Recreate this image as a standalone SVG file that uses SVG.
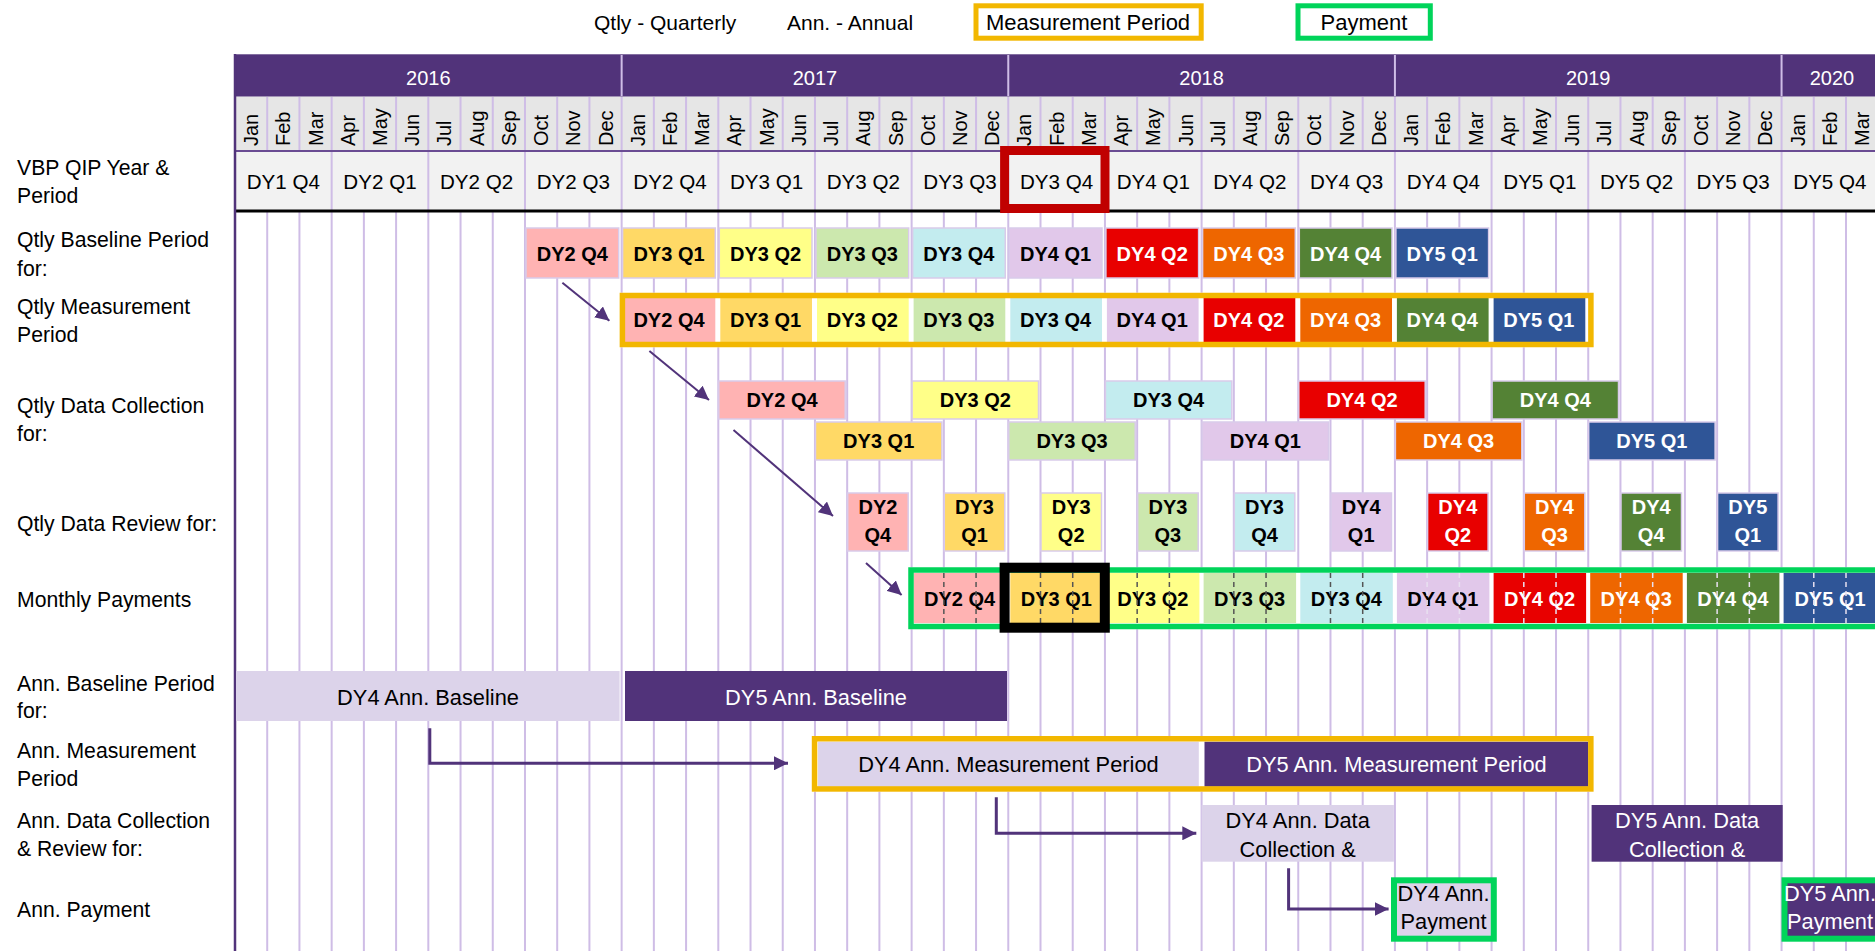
<svg xmlns="http://www.w3.org/2000/svg" width="1875" height="951" viewBox="0 0 1875 951">
<style>
text{font-family:"Liberation Sans",Arial,sans-serif;fill:#000}
.lab{font-size:21.2px}
.lg{font-size:21px}
.lgb{font-size:22px;text-anchor:middle}
.yr{font-size:20px;fill:#fff;text-anchor:middle}
.mo{font-size:20px}
.qt{font-size:20.6px;text-anchor:middle}
.bt{font-size:20px;font-weight:bold;text-anchor:middle}
.w{fill:#fff}
.an{font-size:21.8px;text-anchor:middle}
.blk{stroke:#D9CBEA;stroke-width:1.5}
.pk{fill:#FFB3B3}.gd{fill:#FFD966}.yw{fill:#FFFF88}.lgn{fill:#CCE8AE}.cy{fill:#C3ECEF}.lv{fill:#E1C8EA}
.rd{fill:#E80000}.or{fill:#EE6600}.gn{fill:#548235}.bl{fill:#2F5597}
.al{fill:#DCD3EA}.ap{fill:#51337A}
.grid{stroke:#CFBDE6;stroke-width:2;fill:none}
.ob{fill:none;stroke:#F2B700;stroke-width:5.5}
.gb{fill:none;stroke:#00D45A;stroke-width:5.5}
.dk{stroke:#555;stroke-width:1.5;stroke-dasharray:5 4}
.lt{stroke:#E8E0F0;stroke-width:1.5;stroke-dasharray:5 4}
.con{fill:none;stroke:#51337A}
</style>
<defs>
<marker id="ah" viewBox="0 0 10 10" refX="10" refY="5" markerWidth="14" markerHeight="14" markerUnits="userSpaceOnUse" orient="auto"><path d="M0,0 L10,5 L0,10 z" fill="#51337A"/></marker>
</defs>

<!-- legend -->
<g id="legend">
<text class="lg" x="594" y="30">Qtly - Quarterly</text>
<text class="lg" x="787" y="30">Ann. - Annual</text>
<rect x="976" y="5.8" width="225.2" height="32.4" fill="#fff" stroke="#F2B700" stroke-width="5"/>
<text class="lgb" x="1088" y="30">Measurement Period</text>
<rect x="1298" y="5.8" width="132.3" height="32.4" fill="#fff" stroke="#00D45A" stroke-width="5"/>
<text class="lgb" x="1364" y="30">Payment</text>
</g>

<!-- header -->
<g id="header">
<rect x="235" y="54.3" width="1640" height="42.4" fill="#51337A"/>
<rect x="235" y="96.7" width="1640" height="54.3" fill="#E6E6E6"/>
<rect x="235" y="151" width="1640" height="60" fill="#F2F2F2"/>
<path class="grid" d="M621.64 55V96M1008.28 55V96M1394.92 55V96M1781.56 55V96"/>
<path class="grid" d="M267.22 97V150M299.44 97V150M331.66 97V150M363.88 97V150M396.1 97V150M428.32 97V150M460.54 97V150M492.76 97V150M524.98 97V150M557.2 97V150M589.42 97V150M621.64 97V150M653.86 97V150M686.08 97V150M718.3 97V150M750.52 97V150M782.74 97V150M814.96 97V150M847.18 97V150M879.4 97V150M911.62 97V150M943.84 97V150M976.06 97V150M1008.28 97V150M1040.5 97V150M1072.72 97V150M1104.94 97V150M1137.16 97V150M1169.38 97V150M1201.6 97V150M1233.82 97V150M1266.04 97V150M1298.26 97V150M1330.48 97V150M1362.7 97V150M1394.92 97V150M1427.14 97V150M1459.36 97V150M1491.58 97V150M1523.8 97V150M1556.02 97V150M1588.24 97V150M1620.46 97V150M1652.68 97V150M1684.9 97V150M1717.12 97V150M1749.34 97V150M1781.56 97V150M1813.78 97V150M1846 97V150"/>
<path class="grid" d="M331.66 152V210M428.32 152V210M524.98 152V210M621.64 152V210M718.3 152V210M814.96 152V210M911.62 152V210M1008.28 152V210M1104.94 152V210M1201.6 152V210M1298.26 152V210M1394.92 152V210M1491.58 152V210M1588.24 152V210M1684.9 152V210M1781.56 152V210"/>
<line x1="235" y1="151" x2="1875" y2="151" stroke="#6A4C93" stroke-width="2"/>
<text class="yr" x="428.3" y="85">2016</text>
<text class="yr" x="815" y="85">2017</text>
<text class="yr" x="1201.6" y="85">2018</text>
<text class="yr" x="1588.2" y="85">2019</text>
<text class="yr" x="1832" y="85">2020</text>
<g class="months">
<text class="mo" transform="translate(258.1,146) rotate(-90)">Jan</text>
<text class="mo" transform="translate(290.3,146) rotate(-90)">Feb</text>
<text class="mo" transform="translate(322.5,146) rotate(-90)">Mar</text>
<text class="mo" transform="translate(354.8,146) rotate(-90)">Apr</text>
<text class="mo" transform="translate(387,146) rotate(-90)">May</text>
<text class="mo" transform="translate(419.2,146) rotate(-90)">Jun</text>
<text class="mo" transform="translate(451.4,146) rotate(-90)">Jul</text>
<text class="mo" transform="translate(483.6,146) rotate(-90)">Aug</text>
<text class="mo" transform="translate(515.9,146) rotate(-90)">Sep</text>
<text class="mo" transform="translate(548.1,146) rotate(-90)">Oct</text>
<text class="mo" transform="translate(580.3,146) rotate(-90)">Nov</text>
<text class="mo" transform="translate(612.5,146) rotate(-90)">Dec</text>
<text class="mo" transform="translate(644.7,146) rotate(-90)">Jan</text>
<text class="mo" transform="translate(676.9,146) rotate(-90)">Feb</text>
<text class="mo" transform="translate(709.2,146) rotate(-90)">Mar</text>
<text class="mo" transform="translate(741.4,146) rotate(-90)">Apr</text>
<text class="mo" transform="translate(773.6,146) rotate(-90)">May</text>
<text class="mo" transform="translate(805.8,146) rotate(-90)">Jun</text>
<text class="mo" transform="translate(838,146) rotate(-90)">Jul</text>
<text class="mo" transform="translate(870.3,146) rotate(-90)">Aug</text>
<text class="mo" transform="translate(902.5,146) rotate(-90)">Sep</text>
<text class="mo" transform="translate(934.7,146) rotate(-90)">Oct</text>
<text class="mo" transform="translate(966.9,146) rotate(-90)">Nov</text>
<text class="mo" transform="translate(999.1,146) rotate(-90)">Dec</text>
<text class="mo" transform="translate(1031.4,146) rotate(-90)">Jan</text>
<text class="mo" transform="translate(1063.6,146) rotate(-90)">Feb</text>
<text class="mo" transform="translate(1095.8,146) rotate(-90)">Mar</text>
<text class="mo" transform="translate(1128,146) rotate(-90)">Apr</text>
<text class="mo" transform="translate(1160.2,146) rotate(-90)">May</text>
<text class="mo" transform="translate(1192.5,146) rotate(-90)">Jun</text>
<text class="mo" transform="translate(1224.7,146) rotate(-90)">Jul</text>
<text class="mo" transform="translate(1256.9,146) rotate(-90)">Aug</text>
<text class="mo" transform="translate(1289.1,146) rotate(-90)">Sep</text>
<text class="mo" transform="translate(1321.4,146) rotate(-90)">Oct</text>
<text class="mo" transform="translate(1353.6,146) rotate(-90)">Nov</text>
<text class="mo" transform="translate(1385.8,146) rotate(-90)">Dec</text>
<text class="mo" transform="translate(1418,146) rotate(-90)">Jan</text>
<text class="mo" transform="translate(1450.2,146) rotate(-90)">Feb</text>
<text class="mo" transform="translate(1482.5,146) rotate(-90)">Mar</text>
<text class="mo" transform="translate(1514.7,146) rotate(-90)">Apr</text>
<text class="mo" transform="translate(1546.9,146) rotate(-90)">May</text>
<text class="mo" transform="translate(1579.1,146) rotate(-90)">Jun</text>
<text class="mo" transform="translate(1611.3,146) rotate(-90)">Jul</text>
<text class="mo" transform="translate(1643.6,146) rotate(-90)">Aug</text>
<text class="mo" transform="translate(1675.8,146) rotate(-90)">Sep</text>
<text class="mo" transform="translate(1708,146) rotate(-90)">Oct</text>
<text class="mo" transform="translate(1740.2,146) rotate(-90)">Nov</text>
<text class="mo" transform="translate(1772.4,146) rotate(-90)">Dec</text>
<text class="mo" transform="translate(1804.7,146) rotate(-90)">Jan</text>
<text class="mo" transform="translate(1836.9,146) rotate(-90)">Feb</text>
<text class="mo" transform="translate(1869.1,146) rotate(-90)">Mar</text>
</g>
<g class="quarters">
<text class="qt" x="283.3" y="189">DY1 Q4</text>
<text class="qt" x="380" y="189">DY2 Q1</text>
<text class="qt" x="476.6" y="189">DY2 Q2</text>
<text class="qt" x="573.3" y="189">DY2 Q3</text>
<text class="qt" x="670" y="189">DY2 Q4</text>
<text class="qt" x="766.6" y="189">DY3 Q1</text>
<text class="qt" x="863.3" y="189">DY3 Q2</text>
<text class="qt" x="960" y="189">DY3 Q3</text>
<text class="qt" x="1056.6" y="189">DY3 Q4</text>
<text class="qt" x="1153.3" y="189">DY4 Q1</text>
<text class="qt" x="1249.9" y="189">DY4 Q2</text>
<text class="qt" x="1346.6" y="189">DY4 Q3</text>
<text class="qt" x="1443.3" y="189">DY4 Q4</text>
<text class="qt" x="1539.9" y="189">DY5 Q1</text>
<text class="qt" x="1636.6" y="189">DY5 Q2</text>
<text class="qt" x="1733.2" y="189">DY5 Q3</text>
<text class="qt" x="1829.9" y="189">DY5 Q4</text>
</g>
</g>

<!-- body grid -->
<g id="grid">
<path class="grid" d="M267.22 212V951M299.44 212V951M331.66 212V951M363.88 212V951M396.1 212V951M428.32 212V951M460.54 212V951M492.76 212V951M524.98 212V951M557.2 212V951M589.42 212V951M621.64 212V951M653.86 212V951M686.08 212V951M718.3 212V951M750.52 212V951M782.74 212V951M814.96 212V951M847.18 212V951M879.4 212V951M911.62 212V951M943.84 212V951M976.06 212V951M1008.28 212V951M1040.5 212V951M1072.72 212V951M1104.94 212V951M1137.16 212V951M1169.38 212V951M1201.6 212V951M1233.82 212V951M1266.04 212V951M1298.26 212V951M1330.48 212V951M1362.7 212V951M1394.92 212V951M1427.14 212V951M1459.36 212V951M1491.58 212V951M1523.8 212V951M1556.02 212V951M1588.24 212V951M1620.46 212V951M1652.68 212V951M1684.9 212V951M1717.12 212V951M1749.34 212V951M1781.56 212V951M1813.78 212V951M1846 212V951"/>
<line x1="235" y1="211" x2="1875" y2="211" stroke="#000" stroke-width="3"/>
<line x1="235" y1="54" x2="235" y2="951" stroke="#51337A" stroke-width="2.5"/>
</g>

<!-- row labels -->
<g id="row-labels">
<text class="lab" x="17" y="175">VBP QIP Year &amp;</text>
<text class="lab" x="17" y="203">Period</text>
<text class="lab" x="17" y="247">Qtly Baseline Period</text>
<text class="lab" x="17" y="275.5">for:</text>
<text class="lab" x="17" y="314.3">Qtly Measurement</text>
<text class="lab" x="17" y="341.7">Period</text>
<text class="lab" x="17" y="413.3">Qtly Data Collection</text>
<text class="lab" x="17" y="440.7">for:</text>
<text class="lab" x="17" y="531">Qtly Data Review for:</text>
<text class="lab" x="17" y="606.7">Monthly Payments</text>
<text class="lab" x="17" y="691">Ann. Baseline Period</text>
<text class="lab" x="17" y="718.3">for:</text>
<text class="lab" x="17" y="758.3">Ann. Measurement</text>
<text class="lab" x="17" y="786">Period</text>
<text class="lab" x="17" y="828.3">Ann. Data Collection</text>
<text class="lab" x="17" y="856">&amp; Review for:</text>
<text class="lab" x="17" y="916.7">Ann. Payment</text>
</g>

<!-- red highlight on header -->
<rect id="current-quarter" x="1004.6" y="150.5" width="100.4" height="58" fill="none" stroke="#C00000" stroke-width="9"/>

<!-- Qtly Baseline Period row -->
<g id="baseline-row">
<g id="bp-dy2q4"><rect class="blk pk" x="526" y="228" width="92.7" height="50"/><text class="bt" x="572.3" y="260.5">DY2 Q4</text></g>
<g id="bp-dy3q1"><rect class="blk gd" x="622.6" y="228" width="92.7" height="50"/><text class="bt" x="669" y="260.5">DY3 Q1</text></g>
<g id="bp-dy3q2"><rect class="blk yw" x="719.3" y="228" width="92.7" height="50"/><text class="bt" x="765.6" y="260.5">DY3 Q2</text></g>
<g id="bp-dy3q3"><rect class="blk lgn" x="816" y="228" width="92.7" height="50"/><text class="bt" x="862.3" y="260.5">DY3 Q3</text></g>
<g id="bp-dy3q4"><rect class="blk cy" x="912.6" y="228" width="92.7" height="50"/><text class="bt" x="958.9" y="260.5">DY3 Q4</text></g>
<g id="bp-dy4q1"><rect class="blk lv" x="1009.3" y="228" width="92.7" height="50"/><text class="bt" x="1055.6" y="260.5">DY4 Q1</text></g>
<g id="bp-dy4q2"><rect class="blk rd" x="1105.9" y="228" width="92.7" height="50"/><text class="bt w" x="1152.2" y="260.5">DY4 Q2</text></g>
<g id="bp-dy4q3"><rect class="blk or" x="1202.6" y="228" width="92.7" height="50"/><text class="bt w" x="1248.9" y="260.5">DY4 Q3</text></g>
<g id="bp-dy4q4"><rect class="blk gn" x="1299.3" y="228" width="92.7" height="50"/><text class="bt w" x="1345.6" y="260.5">DY4 Q4</text></g>
<g id="bp-dy5q1"><rect class="blk bl" x="1395.9" y="228" width="92.7" height="50"/><text class="bt w" x="1442.2" y="260.5">DY5 Q1</text></g>
</g>

<!-- Qtly Measurement Period row -->
<g id="measurement-row">
<rect x="619.6" y="292.7" width="974" height="54.6" fill="#fff"/>
<g id="mp-dy2q4"><rect class="pk" x="623.6" y="298" width="91.7" height="44"/><text class="bt" x="669" y="327">DY2 Q4</text></g>
<g id="mp-dy3q1"><rect class="gd" x="720.3" y="298" width="91.7" height="44"/><text class="bt" x="765.6" y="327">DY3 Q1</text></g>
<g id="mp-dy3q2"><rect class="yw" x="817" y="298" width="91.7" height="44"/><text class="bt" x="862.3" y="327">DY3 Q2</text></g>
<g id="mp-dy3q3"><rect class="lgn" x="913.6" y="298" width="91.7" height="44"/><text class="bt" x="958.9" y="327">DY3 Q3</text></g>
<g id="mp-dy3q4"><rect class="cy" x="1010.3" y="298" width="91.7" height="44"/><text class="bt" x="1055.6" y="327">DY3 Q4</text></g>
<g id="mp-dy4q1"><rect class="lv" x="1106.9" y="298" width="91.7" height="44"/><text class="bt" x="1152.2" y="327">DY4 Q1</text></g>
<g id="mp-dy4q2"><rect class="rd" x="1203.6" y="298" width="91.7" height="44"/><text class="bt w" x="1248.9" y="327">DY4 Q2</text></g>
<g id="mp-dy4q3"><rect class="or" x="1300.3" y="298" width="91.7" height="44"/><text class="bt w" x="1345.6" y="327">DY4 Q3</text></g>
<g id="mp-dy4q4"><rect class="gn" x="1396.9" y="298" width="91.7" height="44"/><text class="bt w" x="1442.2" y="327">DY4 Q4</text></g>
<g id="mp-dy5q1"><rect class="bl" x="1493.6" y="298" width="91.7" height="44"/><text class="bt w" x="1538.9" y="327">DY5 Q1</text></g>
<rect class="ob" x="622.4" y="295.5" width="968.5" height="49"/>
</g>

<!-- Qtly Data Collection row -->
<g id="collection-row">
<g id="dc-dy2q4"><rect class="blk pk" x="718.8" y="381" width="126.4" height="38"/><text class="bt" x="782" y="407">DY2 Q4</text></g>
<g id="dc-dy3q2"><rect class="blk yw" x="912.1" y="381" width="126.4" height="38"/><text class="bt" x="975.3" y="407">DY3 Q2</text></g>
<g id="dc-dy3q4"><rect class="blk cy" x="1105.4" y="381" width="126.4" height="38"/><text class="bt" x="1168.6" y="407">DY3 Q4</text></g>
<g id="dc-dy4q2"><rect class="blk rd" x="1298.8" y="381" width="126.4" height="38"/><text class="bt w" x="1362" y="407">DY4 Q2</text></g>
<g id="dc-dy4q4"><rect class="blk gn" x="1492.1" y="381" width="126.4" height="38"/><text class="bt w" x="1555.3" y="407">DY4 Q4</text></g>
<g id="dc-dy3q1"><rect class="blk gd" x="815.5" y="422" width="126.4" height="38"/><text class="bt" x="878.7" y="448">DY3 Q1</text></g>
<g id="dc-dy3q3"><rect class="blk lgn" x="1008.8" y="422" width="126.4" height="38"/><text class="bt" x="1072" y="448">DY3 Q3</text></g>
<g id="dc-dy4q1"><rect class="blk lv" x="1202.1" y="422" width="126.4" height="38"/><text class="bt" x="1265.3" y="448">DY4 Q1</text></g>
<g id="dc-dy4q3"><rect class="blk or" x="1395.4" y="422" width="126.4" height="38"/><text class="bt w" x="1458.6" y="448">DY4 Q3</text></g>
<g id="dc-dy5q1"><rect class="blk bl" x="1588.7" y="422" width="126.4" height="38"/><text class="bt w" x="1651.9" y="448">DY5 Q1</text></g>
</g>

<!-- Qtly Data Review row -->
<g id="review-row">
<g id="dr-dy2q4"><rect class="blk pk" x="847.7" y="493" width="60.5" height="58"/><text class="bt" x="877.9" y="514">DY2</text><text class="bt" x="877.9" y="542">Q4</text></g>
<g id="dr-dy3q1"><rect class="blk gd" x="944.3" y="493" width="60.5" height="58"/><text class="bt" x="974.5" y="514">DY3</text><text class="bt" x="974.5" y="542">Q1</text></g>
<g id="dr-dy3q2"><rect class="blk yw" x="1041" y="493" width="60.5" height="58"/><text class="bt" x="1071.2" y="514">DY3</text><text class="bt" x="1071.2" y="542">Q2</text></g>
<g id="dr-dy3q3"><rect class="blk lgn" x="1137.7" y="493" width="60.5" height="58"/><text class="bt" x="1167.9" y="514">DY3</text><text class="bt" x="1167.9" y="542">Q3</text></g>
<g id="dr-dy3q4"><rect class="blk cy" x="1234.3" y="493" width="60.5" height="58"/><text class="bt" x="1264.5" y="514">DY3</text><text class="bt" x="1264.5" y="542">Q4</text></g>
<g id="dr-dy4q1"><rect class="blk lv" x="1331" y="493" width="60.5" height="58"/><text class="bt" x="1361.2" y="514">DY4</text><text class="bt" x="1361.2" y="542">Q1</text></g>
<g id="dr-dy4q2"><rect class="blk rd" x="1427.6" y="493" width="60.5" height="58"/><text class="bt w" x="1457.8" y="514">DY4</text><text class="bt w" x="1457.8" y="542">Q2</text></g>
<g id="dr-dy4q3"><rect class="blk or" x="1524.3" y="493" width="60.5" height="58"/><text class="bt w" x="1554.5" y="514">DY4</text><text class="bt w" x="1554.5" y="542">Q3</text></g>
<g id="dr-dy4q4"><rect class="blk gn" x="1621" y="493" width="60.5" height="58"/><text class="bt w" x="1651.2" y="514">DY4</text><text class="bt w" x="1651.2" y="542">Q4</text></g>
<g id="dr-dy5q1"><rect class="blk bl" x="1717.6" y="493" width="60.5" height="58"/><text class="bt w" x="1747.8" y="514">DY5</text><text class="bt w" x="1747.8" y="542">Q1</text></g>
</g>

<!-- Monthly Payments row -->
<g id="payments-row">
<rect x="908.2" y="567.3" width="970" height="62" fill="#fff"/>
<g id="pay-dy2q4"><rect class="pk" x="913.6" y="573" width="92.5" height="50"/><text class="bt" x="959.6" y="605.5">DY2 Q4</text></g>
<g id="pay-dy3q1"><rect class="gd" x="1010.3" y="573" width="92.5" height="50"/><text class="bt" x="1056.3" y="605.5">DY3 Q1</text></g>
<g id="pay-dy3q2"><rect class="yw" x="1106.9" y="573" width="92.5" height="50"/><text class="bt" x="1152.9" y="605.5">DY3 Q2</text></g>
<g id="pay-dy3q3"><rect class="lgn" x="1203.6" y="573" width="92.5" height="50"/><text class="bt" x="1249.6" y="605.5">DY3 Q3</text></g>
<g id="pay-dy3q4"><rect class="cy" x="1300.3" y="573" width="92.5" height="50"/><text class="bt" x="1346.3" y="605.5">DY3 Q4</text></g>
<g id="pay-dy4q1"><rect class="lv" x="1396.9" y="573" width="92.5" height="50"/><text class="bt" x="1442.9" y="605.5">DY4 Q1</text></g>
<g id="pay-dy4q2"><rect class="rd" x="1493.6" y="573" width="92.5" height="50"/><text class="bt w" x="1539.6" y="605.5">DY4 Q2</text></g>
<g id="pay-dy4q3"><rect class="or" x="1590.2" y="573" width="92.5" height="50"/><text class="bt w" x="1636.2" y="605.5">DY4 Q3</text></g>
<g id="pay-dy4q4"><rect class="gn" x="1686.9" y="573" width="92.5" height="50"/><text class="bt w" x="1732.9" y="605.5">DY4 Q4</text></g>
<g id="pay-dy5q1"><rect class="bl" x="1783.6" y="573" width="100" height="50"/><text class="bt w" x="1830" y="605.5">DY5 Q1</text></g>
<path class="dk" d="M943.84 573V623M976.06 573V623M1040.5 573V623M1072.72 573V623M1137.16 573V623M1169.38 573V623M1233.82 573V623M1266.04 573V623M1330.48 573V623M1362.7 573V623"/>
<path class="lt" d="M1427.14 573V623M1459.36 573V623M1523.8 573V623M1556.02 573V623M1620.46 573V623M1652.68 573V623M1717.12 573V623M1749.34 573V623M1813.78 573V623M1846 573V623"/>
<rect class="gb" x="911" y="570" width="975" height="56.5"/>
<rect id="current-payment" x="1004.6" y="567.7" width="100.2" height="60" fill="none" stroke="#000" stroke-width="10"/>
</g>

<!-- Annual rows -->
<g id="ann-baseline">
<g id="ab-dy4"><rect class="al" x="236" y="671" width="383.6" height="50"/><text class="an" x="428" y="705">DY4 Ann. Baseline</text></g>
<g id="ab-dy5"><rect class="ap" x="625" y="671" width="382" height="50"/><text class="an w" x="816" y="705">DY5 Ann. Baseline</text></g>
</g>
<g id="ann-measurement">
<rect x="811.8" y="736" width="781.8" height="55.7" fill="#fff"/>
<g id="am-dy4"><rect class="al" x="818" y="741.7" width="380.8" height="45"/><text class="an" x="1008.4" y="772">DY4 Ann. Measurement Period</text></g>
<g id="am-dy5"><rect class="ap" x="1204.5" y="741.7" width="383.8" height="45"/><text class="an w" x="1396.4" y="772">DY5 Ann. Measurement Period</text></g>
<rect class="ob" x="814.55" y="738.75" width="776.3" height="50.2"/>
</g>
<g id="ann-collection">
<g id="ac-dy4"><rect class="al" x="1201.6" y="805" width="192.3" height="56.7"/><text class="an" x="1297.7" y="828">DY4 Ann. Data</text><text class="an" x="1297.7" y="856.5">Collection &amp;</text></g>
<g id="ac-dy5"><rect class="ap" x="1591.6" y="805" width="191.1" height="56.7"/><text class="an w" x="1687.1" y="828">DY5 Ann. Data</text><text class="an w" x="1687.1" y="856.5">Collection &amp;</text></g>
</g>
<g id="ann-payment">
<g id="ap-dy4"><rect class="al" x="1394" y="880.3" width="99.8" height="58.4" stroke="#00D45A" stroke-width="6"/><text class="an" x="1443.5" y="900.5">DY4 Ann.</text><text class="an" x="1443.5" y="929">Payment</text></g>
<g id="ap-dy5"><rect class="ap" x="1784.5" y="880.3" width="100" height="58.4" stroke="#00D45A" stroke-width="6"/><text class="an w" x="1830" y="900.5">DY5 Ann.</text><text class="an w" x="1830" y="929">Payment</text></g>
</g>

<!-- connectors -->
<g id="connectors">
<line class="con" stroke-width="2" x1="562.4" y1="282.7" x2="609.4" y2="320.7" marker-end="url(#ah)"/>
<line class="con" stroke-width="2" x1="649.4" y1="351" x2="709" y2="400" marker-end="url(#ah)"/>
<line class="con" stroke-width="2" x1="733.5" y1="430" x2="833" y2="516" marker-end="url(#ah)"/>
<line class="con" stroke-width="2" x1="866" y1="563" x2="901.6" y2="595" marker-end="url(#ah)"/>
<polyline class="con" stroke-width="3" points="429.8,728.3 429.8,763.3 788,763.3" marker-end="url(#ah)"/>
<polyline class="con" stroke-width="3" points="996.3,797.3 996.3,833.3 1196.3,833.3" marker-end="url(#ah)"/>
<polyline class="con" stroke-width="3" points="1288.6,868.3 1288.6,909 1388.6,909" marker-end="url(#ah)"/>
</g>
</svg>
